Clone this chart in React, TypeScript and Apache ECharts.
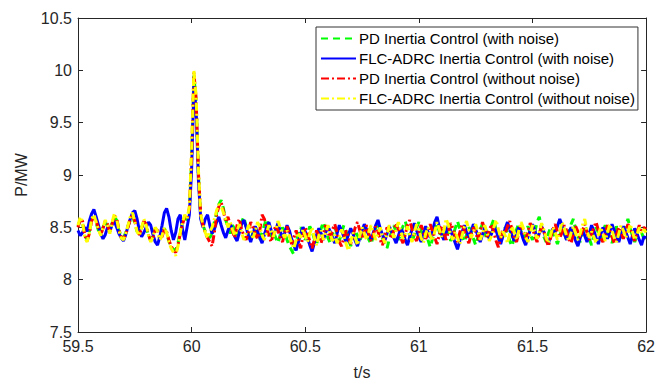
import React, { useEffect, useRef } from "react";
import * as echarts from "echarts";

const T0 = 59.5;
const DT = 0.01;

const xTicks = [59.5, 60, 60.5, 61, 61.5, 62];
const yTicks = [7.5, 8, 8.5, 9, 9.5, 10, 10.5];

const seriesNames = [
  "PD Inertia Control (with noise)",
  "FLC-ADRC Inertia Control (with noise)",
  "PD Inertia Control (without noise)",
  "FLC-ADRC Inertia Control (without noise)",
];

// PD Inertia Control (with noise)
const pdNoise = [
  8.51, 8.57, 8.54, 8.43, 8.38, 8.46, 8.57, 8.6, 8.54, 8.47,
  8.44, 8.5, 8.55, 8.51, 8.46, 8.54, 8.6, 8.57, 8.47, 8.42,
  8.4, 8.45, 8.51, 8.57, 8.61, 8.54, 8.46, 8.44, 8.5, 8.55,
  8.51, 8.42, 8.38, 8.42, 8.49, 8.45, 8.39, 8.43, 8.49, 8.44,
  8.37, 8.31, 8.29, 8.28, 8.35, 8.46, 8.54, 8.59, 8.57, 8.66,
  9.15, 9.95, 9.7, 9.0, 8.6,
  8.52, 8.46, 8.43, 8.4, 8.45,
  8.55, 8.64, 8.72, 8.76, 8.68, 8.57, 8.5, 8.44, 8.52, 8.48,
  8.42, 8.47, 8.55, 8.6, 8.5, 8.43, 8.37, 8.45, 8.5, 8.44,
  8.39, 8.45, 8.52, 8.58, 8.49, 8.41, 8.46, 8.4, 8.35, 8.43,
  8.5, 8.45, 8.38, 8.32, 8.28, 8.24, 8.36, 8.44, 8.5, 8.45,
  8.38, 8.43, 8.51, 8.46, 8.39, 8.34, 8.42, 8.49, 8.55, 8.47,
  8.4, 8.35, 8.43, 8.5, 8.44, 8.37, 8.45, 8.52, 8.46, 8.39,
  8.32, 8.4, 8.47, 8.42, 8.36, 8.44, 8.51, 8.45, 8.38, 8.34,
  8.42, 8.49, 8.55, 8.47, 8.4, 8.35, 8.3, 8.39, 8.46, 8.52,
  8.45, 8.38, 8.44, 8.51, 8.56, 8.48, 8.42, 8.36, 8.43, 8.5,
  8.55, 8.47, 8.4, 8.45, 8.38, 8.31, 8.39, 8.47, 8.53, 8.46,
  8.39, 8.44, 8.5, 8.45, 8.37, 8.42, 8.49, 8.56, 8.48, 8.41,
  8.36, 8.43, 8.5, 8.46, 8.39, 8.33, 8.41, 8.48, 8.53, 8.45,
  8.38, 8.44, 8.52, 8.58, 8.47, 8.4, 8.35, 8.43, 8.5, 8.45,
  8.37, 8.32, 8.41, 8.48, 8.54, 8.46, 8.4, 8.45, 8.51, 8.44,
  8.38, 8.45, 8.55, 8.6, 8.49, 8.41, 8.36, 8.44, 8.5, 8.46,
  8.4, 8.34, 8.42, 8.49, 8.44, 8.38, 8.46, 8.53, 8.58, 8.48,
  8.41, 8.36, 8.44, 8.51, 8.46, 8.39, 8.33, 8.42, 8.5, 8.45,
  8.38, 8.45, 8.52, 8.47, 8.41, 8.35, 8.43, 8.51, 8.46, 8.4,
  8.44, 8.51, 8.58, 8.49, 8.42, 8.36, 8.44, 8.5, 8.45, 8.39,
  8.42,
];

// FLC-ADRC Inertia Control (with noise)
const flcNoise = [
  8.47, 8.42, 8.45, 8.5, 8.46, 8.56, 8.63, 8.67, 8.6, 8.52,
  8.44, 8.39, 8.43, 8.5, 8.46, 8.53, 8.56, 8.5, 8.44, 8.4,
  8.37, 8.43, 8.51, 8.58, 8.64, 8.66, 8.58, 8.47, 8.41, 8.45,
  8.5, 8.55, 8.52, 8.43, 8.36, 8.33, 8.41, 8.52, 8.64, 8.68,
  8.6, 8.47, 8.38, 8.45, 8.58, 8.62, 8.48, 8.38, 8.5, 8.62,
  9.05, 9.85, 9.62, 8.95, 8.58,
  8.5, 8.58, 8.62, 8.52, 8.44,
  8.48, 8.55, 8.6, 8.52, 8.45, 8.4, 8.47, 8.53, 8.48, 8.41,
  8.37, 8.45, 8.53, 8.57, 8.5, 8.42, 8.36, 8.44, 8.51, 8.46,
  8.4, 8.35, 8.43, 8.5, 8.55, 8.47, 8.41, 8.48, 8.54, 8.46,
  8.4, 8.45, 8.52, 8.47, 8.39, 8.33, 8.28, 8.36, 8.44, 8.5,
  8.46, 8.4, 8.33, 8.27, 8.35, 8.43, 8.49, 8.44, 8.38, 8.45,
  8.51, 8.46, 8.4, 8.35, 8.44, 8.52, 8.47, 8.41, 8.36, 8.43,
  8.49, 8.44, 8.37, 8.32, 8.4, 8.47, 8.53, 8.48, 8.42, 8.38,
  8.45, 8.52, 8.57, 8.49, 8.43, 8.37, 8.44, 8.51, 8.46, 8.4,
  8.35, 8.42, 8.49, 8.45, 8.38, 8.33, 8.41, 8.48, 8.54, 8.47,
  8.41, 8.36, 8.44, 8.51, 8.46, 8.4, 8.47, 8.55, 8.6, 8.5,
  8.43, 8.38, 8.45, 8.52, 8.47, 8.41, 8.35, 8.29, 8.37, 8.45,
  8.52, 8.46, 8.4, 8.46, 8.53, 8.48, 8.42, 8.36, 8.43, 8.5,
  8.45, 8.39, 8.44, 8.51, 8.47, 8.4, 8.34, 8.42, 8.49, 8.55,
  8.48, 8.42, 8.37, 8.44, 8.5, 8.45, 8.38, 8.33, 8.41, 8.47,
  8.53, 8.47, 8.4, 8.44, 8.51, 8.46, 8.39, 8.34, 8.42, 8.49,
  8.45, 8.51, 8.58, 8.52, 8.44, 8.38, 8.45, 8.5, 8.44, 8.37,
  8.32, 8.4, 8.47, 8.42, 8.36, 8.44, 8.52, 8.47, 8.4, 8.34,
  8.43, 8.5, 8.45, 8.39, 8.46, 8.53, 8.47, 8.41, 8.36, 8.44,
  8.51, 8.46, 8.4, 8.34, 8.42, 8.49, 8.44, 8.38, 8.33, 8.41,
  8.4,
];

// PD Inertia Control (without noise)
const pdClean = [
  8.5, 8.58, 8.56, 8.42, 8.37, 8.44, 8.56, 8.61, 8.56, 8.49,
  8.43, 8.49, 8.56, 8.53, 8.45, 8.53, 8.61, 8.59, 8.48, 8.41,
  8.39, 8.43, 8.5, 8.58, 8.62, 8.56, 8.47, 8.43, 8.49, 8.56,
  8.53, 8.43, 8.37, 8.4, 8.48, 8.47, 8.4, 8.41, 8.48, 8.46,
  8.38, 8.32, 8.28, 8.26, 8.33, 8.44, 8.53, 8.6, 8.58, 8.68,
  9.2, 9.98, 9.72, 9.02, 8.62,
  8.52, 8.45, 8.4, 8.36, 8.32,
  8.45, 8.62, 8.7, 8.74, 8.66, 8.55, 8.6, 8.52, 8.46, 8.4,
  8.52, 8.58, 8.48, 8.42, 8.38, 8.45, 8.55, 8.5, 8.44, 8.39,
  8.47, 8.62, 8.58, 8.5, 8.42, 8.36, 8.44, 8.52, 8.47, 8.4,
  8.36, 8.45, 8.51, 8.43, 8.34, 8.4, 8.47, 8.38, 8.3, 8.42,
  8.5, 8.44, 8.37, 8.3, 8.38, 8.47, 8.42, 8.35, 8.44, 8.52,
  8.46, 8.39, 8.48, 8.53, 8.45, 8.36, 8.32, 8.4, 8.47, 8.41,
  8.34, 8.42, 8.5, 8.55, 8.47, 8.39, 8.45, 8.52, 8.44, 8.37,
  8.43, 8.51, 8.46, 8.38, 8.33, 8.42, 8.5, 8.45, 8.39, 8.47,
  8.54, 8.48, 8.4, 8.35, 8.43, 8.52, 8.57, 8.48, 8.41, 8.37,
  8.45, 8.52, 8.46, 8.39, 8.44, 8.53, 8.47, 8.4, 8.34, 8.43,
  8.51, 8.45, 8.38, 8.46, 8.54, 8.49, 8.42, 8.36, 8.45, 8.53,
  8.47, 8.4, 8.35, 8.43, 8.5, 8.45, 8.38, 8.46, 8.55, 8.48,
  8.41, 8.47, 8.53, 8.45, 8.37, 8.31, 8.4, 8.48, 8.44, 8.51,
  8.56, 8.48, 8.4, 8.36, 8.45, 8.52, 8.46, 8.39, 8.45, 8.54,
  8.49, 8.42, 8.36, 8.44, 8.5, 8.46, 8.38, 8.32, 8.4, 8.48,
  8.53, 8.46, 8.4, 8.45, 8.52, 8.47, 8.39, 8.35, 8.44, 8.51,
  8.46, 8.4, 8.47, 8.53, 8.45, 8.38, 8.43, 8.5, 8.55, 8.47,
  8.4, 8.36, 8.44, 8.52, 8.47, 8.41, 8.35, 8.43, 8.5, 8.45,
  8.39, 8.46, 8.53, 8.48, 8.42, 8.37, 8.45, 8.52, 8.47, 8.5,
  8.48,
];

// FLC-ADRC Inertia Control (without noise)
const flcClean = [
  8.52, 8.6, 8.55, 8.4, 8.36, 8.45, 8.58, 8.62, 8.55, 8.48,
  8.42, 8.5, 8.57, 8.52, 8.44, 8.55, 8.63, 8.58, 8.47, 8.4,
  8.38, 8.44, 8.52, 8.6, 8.64, 8.55, 8.46, 8.42, 8.5, 8.58,
  8.52, 8.42, 8.36, 8.41, 8.5, 8.46, 8.38, 8.42, 8.5, 8.45,
  8.36, 8.3, 8.26, 8.23, 8.32, 8.45, 8.55, 8.62, 8.58, 8.7,
  9.25, 10.0, 9.75, 9.05, 8.62,
  8.52, 8.45, 8.4, 8.46, 8.5,
  8.58, 8.66, 8.72, 8.7, 8.64, 8.58, 8.5, 8.55, 8.48, 8.42,
  8.47, 8.53, 8.45, 8.38, 8.44, 8.52, 8.48, 8.4, 8.46, 8.55,
  8.5, 8.43, 8.38, 8.45, 8.52, 8.47, 8.41, 8.48, 8.56, 8.5,
  8.44, 8.4, 8.47, 8.42, 8.35, 8.3, 8.38, 8.45, 8.4, 8.48,
  8.42, 8.36, 8.44, 8.5, 8.4, 8.33, 8.42, 8.47, 8.38, 8.45,
  8.52, 8.44, 8.37, 8.43, 8.35, 8.4, 8.48, 8.42, 8.34, 8.28,
  8.36, 8.45, 8.4, 8.33, 8.42, 8.5, 8.44, 8.38, 8.46, 8.52,
  8.45, 8.38, 8.43, 8.5, 8.41, 8.35, 8.44, 8.52, 8.46, 8.4,
  8.48, 8.55, 8.47, 8.39, 8.44, 8.51, 8.43, 8.36, 8.45, 8.53,
  8.47, 8.4, 8.35, 8.44, 8.5, 8.42, 8.37, 8.46, 8.55, 8.48,
  8.41, 8.47, 8.58, 8.52, 8.43, 8.38, 8.46, 8.4, 8.34, 8.42,
  8.5, 8.56, 8.47, 8.4, 8.45, 8.53, 8.46, 8.38, 8.44, 8.52,
  8.45, 8.37, 8.42, 8.5, 8.57, 8.48, 8.4, 8.46, 8.42, 8.35,
  8.44, 8.51, 8.45, 8.38, 8.47, 8.55, 8.49, 8.41, 8.36, 8.44,
  8.52, 8.46, 8.39, 8.45, 8.54, 8.48, 8.4, 8.35, 8.43, 8.5,
  8.45, 8.38, 8.46, 8.55, 8.49, 8.42, 8.37, 8.45, 8.51, 8.44,
  8.38, 8.44, 8.52, 8.58, 8.47, 8.4, 8.46, 8.41, 8.35, 8.43,
  8.5, 8.44, 8.37, 8.45, 8.53, 8.47, 8.4, 8.36, 8.44, 8.52,
  8.47, 8.4, 8.45, 8.53, 8.46, 8.38, 8.43, 8.5, 8.44, 8.48,
  8.45,
];

const seriesData = [pdNoise, flcNoise, pdClean, flcClean];
const seriesColors = ["#00ff00", "#0000ff", "#ff0000", "#ffff00"];
const seriesDash: any[] = [[7, 5], "solid", [8, 3, 2, 3], [8, 3, 2, 3]];

const FONT = '"Liberation Sans", Arial, sans-serif';
const AX = "#262626";

const toPairs = (arr: number[]) =>
  arr.map((v, i) => [Number((T0 + i * DT).toFixed(2)), v]);

export default function App() {
  const ref = useRef<HTMLDivElement>(null);
  useEffect(() => {
    if (!ref.current) return;
    const chart = echarts.init(ref.current, undefined, { renderer: "svg" });
    const axisBase = {
      type: "value" as const,
      interval: 0.5,
      axisLine: { show: true, onZero: false, lineStyle: { color: AX, width: 1 } },
      axisTick: { show: true, inside: true, length: 5, lineStyle: { color: AX } },
      splitLine: { show: false },
    };
    chart.setOption({
      animation: false,
      backgroundColor: "#ffffff",
      textStyle: { fontFamily: FONT },
      grid: { left: 78, right: 6, top: 18, bottom: 52, containLabel: false },
      legend: {
        orient: "vertical",
        left: 316,
        top: 27,
        data: seriesNames,
        itemWidth: 35,
        itemHeight: 14,
        itemGap: 5,
        padding: [4, 3, 4, 4],
        backgroundColor: "#ffffff",
        borderColor: "#333333",
        borderWidth: 1,
        borderRadius: 0,
        itemStyle: { opacity: 0 },
        lineStyle: { width: 2 },
        textStyle: { fontSize: 15, color: "#000000", fontFamily: FONT, padding: [0, 0, 0, -2] },
      },
      xAxis: [
        {
          ...axisBase,
          min: 59.5,
          max: 62,
          position: "bottom",
          name: "t/s",
          nameLocation: "middle",
          nameGap: 32,
          nameTextStyle: { fontSize: 16, color: AX, fontFamily: FONT },
          axisLabel: {
            fontSize: 16,
            color: AX,
            margin: 6,
            fontFamily: FONT,
            formatter: (v: number) => (xTicks.includes(v) ? String(v) : ""),
          },
        },
        {
          ...axisBase,
          min: 59.5,
          max: 62,
          position: "top",
          axisLabel: { show: false },
        },
      ],
      yAxis: [
        {
          ...axisBase,
          min: 7.5,
          max: 10.5,
          position: "left",
          name: "P/MW",
          nameLocation: "middle",
          nameGap: 46,
          nameTextStyle: { fontSize: 16, color: AX, fontFamily: FONT },
          axisLabel: {
            fontSize: 16,
            color: AX,
            margin: 6,
            fontFamily: FONT,
            formatter: (v: number) => (yTicks.includes(v) ? String(v) : ""),
          },
        },
        {
          ...axisBase,
          min: 7.5,
          max: 10.5,
          position: "right",
          axisLabel: { show: false },
        },
      ],
      series: seriesData.map((d, k) => ({
        name: seriesNames[k],
        type: "line",
        xAxisIndex: 0,
        yAxisIndex: 0,
        data: toPairs(d),
        showSymbol: false,
        symbol: "none",
        smooth: false,
        lineStyle: { color: seriesColors[k], width: 3, type: seriesDash[k] },
        itemStyle: { color: seriesColors[k] },
        z: 2 + k,
      })),
    });
    return () => chart.dispose();
  }, []);
  return (
    <div
      ref={ref}
      style={{ position: "fixed", left: 0, top: 0, width: 658, height: 385 }}
    />
  );
}
